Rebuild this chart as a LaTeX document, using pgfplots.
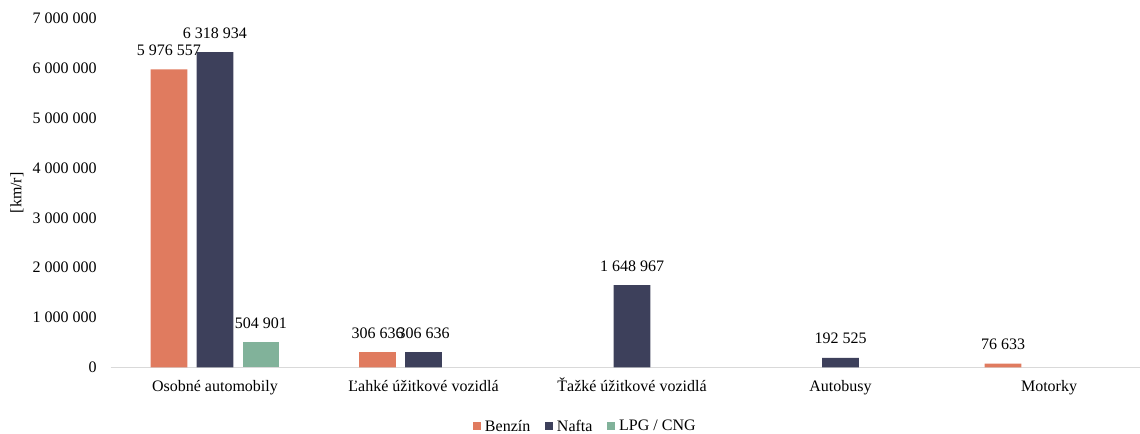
\documentclass[border=0pt]{standalone}
\usepackage{pgfplots}
\pgfplotsset{compat=1.18}
\usepackage{fontspec}
\setmainfont{Liberation Serif}
\definecolor{cBen}{HTML}{E07B5F}
\definecolor{cNaf}{HTML}{3D405B}
\definecolor{cLpg}{HTML}{81B29A}
\definecolor{cAx}{HTML}{D9D9D9}
\begin{document}
\fontsize{12}{14}\selectfont
\begin{tikzpicture}
\begin{axis}[
  scale only axis,
  width=781.9pt, height=261.9pt,
  xmin=-0.5, xmax=4.5,
  ymin=0, ymax=7000000,
  scaled y ticks=false,
  ybar=7pt, bar width=27.5pt,
  axis x line*=bottom, axis y line*=left,
  x axis line style={draw=cAx, line width=0.9pt, -},
  y axis line style={draw=none},
  major tick length=0pt,
  xtick={0,1,2,3,4},
  xticklabels={Osobné automobily, Ľahké úžitkové vozidlá, Ťažké úžitkové vozidlá, Autobusy, Motorky},
  xticklabel style={anchor=base, inner sep=0pt, yshift=-18.4pt, font=\fontsize{12}{14}\selectfont},
  ytick={0,1000000,2000000,3000000,4000000,5000000,6000000,7000000},
  yticklabels={0,1 000 000,2 000 000,3 000 000,4 000 000,5 000 000,6 000 000,7 000 000},
  yticklabel style={anchor=east, inner sep=0pt, xshift=-10.3pt, font=\fontsize{12}{14}\selectfont},
  ylabel={[km/r]},
  ylabel style={at={(axis description cs:-0.0899,0.5)}, anchor=center, font=\fontsize{12}{14}\selectfont},
  point meta=explicit symbolic,
  nodes near coords,
  every node near coord/.append style={anchor=base, inner sep=0pt, yshift=10.5pt, font=\fontsize{12}{14}\selectfont, text=black},
  legend columns=-1,
  legend style={draw=none, fill=none, at={(axis description cs:0.3472,-0.170)}, anchor=west, inner sep=0pt,
    font=\fontsize{12}{14}\selectfont,
    /tikz/every odd column/.append style={column sep=1pt},
    /tikz/every even column/.append style={column sep=9pt}},
  legend image code/.code={\fill[#1] (0pt,-2.6pt) rectangle (6pt,3.4pt);},
]
\addplot[fill=cBen, draw=none] coordinates {(0,5976557)[5 976 557] (1,306636)[306 636] (4,76633)[76 633]};
\addplot[fill=cNaf, draw=none] coordinates {(0,6318934)[6 318 934] (1,306636)[306 636] (2,1648967)[1 648 967] (3,192525)[192 525]};
\addplot[fill=cLpg, draw=none] coordinates {(0,504901)[504 901]};
\legend{Benzín, Nafta, LPG / CNG}
\end{axis}
\pgfresetboundingbox
\path (current axis.south west) ++(-83.06pt,-49.9pt) coordinate (bbsw);
\path (current axis.north west) ++(771.94pt,13.7pt) coordinate (bbne);
\path[use as bounding box] (bbsw) rectangle (bbne);
\end{tikzpicture}
\end{document}
